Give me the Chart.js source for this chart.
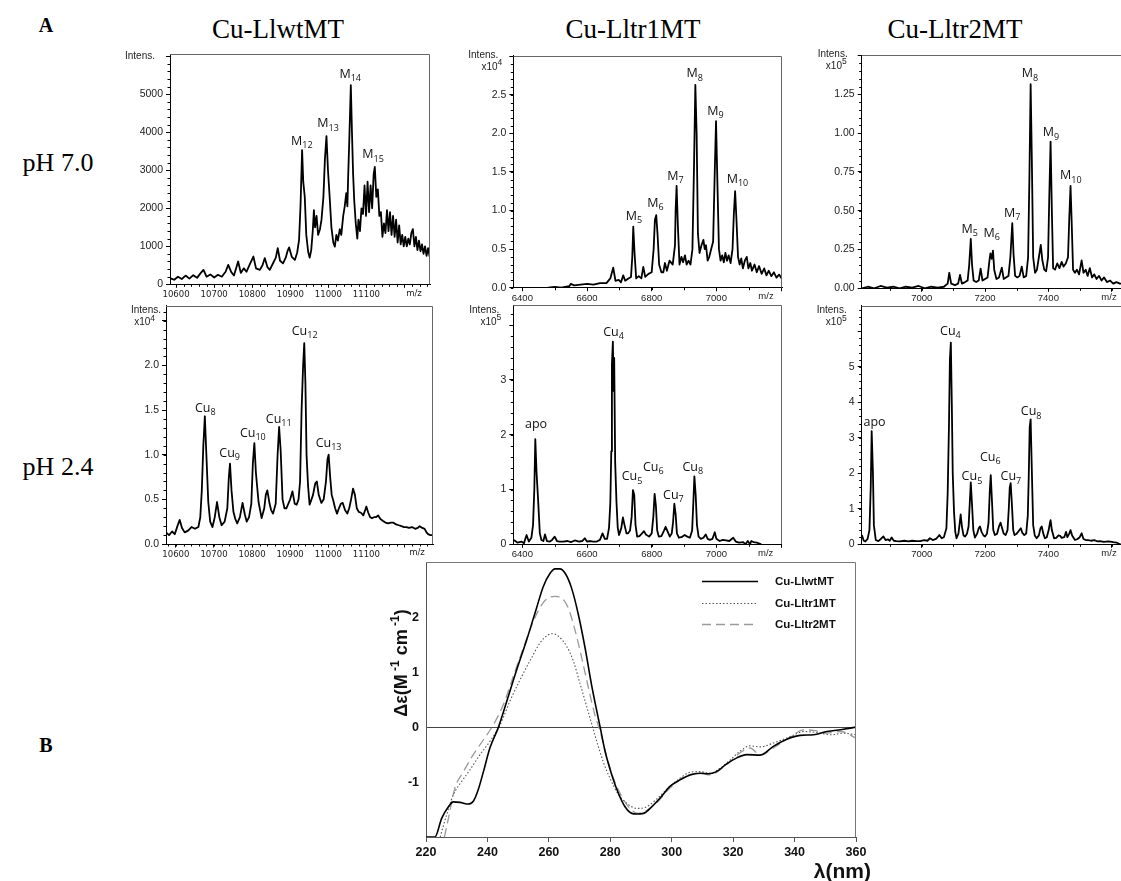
<!DOCTYPE html>
<html><head><meta charset="utf-8">
<script src="https://cdn.jsdelivr.net/npm/chart.js@4.4.1/dist/chart.umd.min.js"></script>
<style>
html,body{margin:0;padding:0;background:#fff;overflow:hidden;width:1121px;height:881px;position:relative}
canvas{position:absolute;left:0;top:0}
.t{position:absolute;white-space:nowrap;color:#000;transform:translate(-50%,-50%);line-height:1}
.serif{font-family:"Liberation Serif","DejaVu Serif",serif}
</style></head><body>
<div class="t serif" style="left:46px;top:25px;font-size:20px;font-weight:bold">A</div>
<div class="t serif" style="left:46px;top:745px;font-size:20px;font-weight:bold">B</div>
<div class="t serif" style="left:58px;top:163px;font-size:26px">pH 7.0</div>
<div class="t serif" style="left:58px;top:467px;font-size:26px">pH 2.4</div>
<div class="t serif" style="left:278px;top:29px;font-size:27px">Cu-LlwtMT</div>
<div class="t serif" style="left:633px;top:29px;font-size:27px">Cu-Lltr1MT</div>
<div class="t serif" style="left:955px;top:29px;font-size:27px">Cu-Lltr2MT</div>
<canvas id="p1" width="1140" height="881"></canvas>
<canvas id="p2" width="1140" height="881"></canvas>
<canvas id="p3" width="1140" height="881"></canvas>
<canvas id="p4" width="1140" height="881"></canvas>
<canvas id="p5" width="1140" height="881"></canvas>
<canvas id="p6" width="1140" height="881"></canvas>
<canvas id="cd" width="1140" height="881"></canvas>
<script>
// ---------- DATA: mass spectra (m/z, intensity) ----------
// pH 7.0, Cu-LlwtMT (Intens.)
const P1_MZ=[10584,10595,10605,10615,10625,10635,10645,10655,10665,10672,10680,10690,10700,10710,10720,10730,10737,10745,10752,10763,10770,10778,10785,10795,10803,10810,10820,10827,10833,10840,10846,10855,10862,10867,10873,10881,10888,10893,10897,10904,10912,10918,10923,10927,10931,10934,10938,10942,10947,10951,10955,10959,10962,10965,10969,10973,10978,10982,10987,10991,10995,10999,11004,11008,11013,11017,11021,11025,11030,11034,11039,11043,11047,11050,11052,11055,11059,11062,11065,11068,11072,11076,11079,11083,11087,11091,11095,11099,11103,11107,11111,11115,11119,11122,11126,11130,11134,11138,11142,11146,11150,11154,11158,11162,11166,11170,11174,11178,11182,11186,11190,11194,11198,11202,11206,11210,11214,11218,11222,11226,11230,11234,11238,11242,11246,11250,11254,11258,11262,11266];
const P1_INT=[160,120,200,140,230,150,240,170,300,380,200,260,180,250,200,330,510,320,230,600,300,420,330,560,730,420,380,500,690,450,380,560,700,950,620,550,700,880,970,720,640,830,1160,2100,3530,2700,2300,1300,850,700,900,1400,1950,1500,1800,1300,1450,1700,2300,3300,3900,3000,2200,1500,1100,990,1300,1150,1450,1300,1800,2050,2400,2050,2830,3800,5240,4000,2900,2200,1600,1200,1700,1400,2000,1850,2600,1800,2700,1900,2600,2000,2900,3090,2300,2500,1800,1900,1250,1600,1350,1950,1400,1900,1300,1800,1250,1700,1100,1550,1050,1300,1000,1250,1000,1200,1050,1350,1450,1000,1250,900,1150,870,1050,800,1000,750,950,730];
// pH 7.0, Cu-Lltr1MT (Intens. x10^4)
const P2_MZ=[6480,6500,6520,6545,6550,6560,6580,6600,6620,6640,6660,6672,6681,6688,6698,6705,6712,6718,6728,6736,6740,6743,6747,6752,6760,6768,6774,6780,6790,6800,6806,6810,6814,6818,6823,6830,6836,6841,6847,6855,6865,6872,6874,6877,6881,6886,6892,6897,6903,6908,6914,6920,6926,6931,6935,6939,6943,6948,6954,6960,6964,6968,6973,6978,6990,6995,6999,7003,7008,7013,7018,7023,7028,7033,7038,7044,7050,7054,7058,7062,7067,7072,7077,7082,7088,7094,7099,7105,7110,7118,7125,7132,7140,7148,7155,7162,7170,7178,7186,7194,7202];
const P2_INT=[0,0.01,0,0.02,0.05,0.03,0.04,0.05,0.04,0.06,0.06,0.12,0.26,0.09,0.1,0.07,0.16,0.09,0.12,0.14,0.4,0.79,0.45,0.12,0.15,0.12,0.27,0.14,0.18,0.2,0.5,0.88,0.94,0.7,0.3,0.2,0.2,0.32,0.22,0.35,0.3,0.55,1.0,1.32,0.8,0.3,0.4,0.33,0.42,0.3,0.35,0.3,0.5,1.6,2.63,2.0,0.7,0.45,0.55,0.62,0.5,0.55,0.35,0.4,0.6,1.5,2.16,1.4,0.5,0.35,0.42,0.33,0.45,0.35,0.42,0.32,0.5,0.95,1.25,0.9,0.4,0.3,0.38,0.25,0.35,0.4,0.25,0.32,0.22,0.3,0.2,0.28,0.18,0.25,0.16,0.22,0.15,0.2,0.13,0.17,0.12];
// pH 7.0, Cu-Lltr2MT (Intens. x10^5)
const P3_MZ=[6811,6830,6850,6870,6890,6910,6930,6950,6970,6990,7010,7030,7050,7070,7082,7087,7093,7105,7115,7121,7127,7137,7145,7150,7155,7159,7164,7172,7180,7186,7192,7200,7208,7214,7217,7221,7225,7229,7236,7244,7253,7259,7266,7274,7280,7286,7290,7295,7302,7309,7316,7322,7330,7336,7340,7344,7348,7352,7358,7364,7370,7376,7381,7387,7393,7399,7403,7407,7411,7415,7421,7428,7435,7442,7448,7455,7462,7466,7470,7474,7478,7484,7490,7497,7505,7511,7518,7524,7531,7538,7545,7552,7560,7568,7576,7585,7595,7605,7615,7626,7640];
const P3_INT=[0,0.01,0,0.015,0.005,0.01,0,0.01,0.005,0.015,0,0.01,0.005,0.01,0.03,0.10,0.03,0.02,0.03,0.086,0.03,0.04,0.05,0.15,0.318,0.15,0.05,0.04,0.05,0.127,0.05,0.06,0.07,0.18,0.225,0.19,0.243,0.12,0.06,0.07,0.133,0.06,0.07,0.08,0.2,0.42,0.22,0.08,0.07,0.08,0.14,0.07,0.08,0.2,0.7,1.315,0.8,0.2,0.1,0.12,0.2,0.28,0.18,0.12,0.11,0.2,0.6,0.945,0.5,0.13,0.12,0.16,0.13,0.17,0.14,0.16,0.2,0.45,0.66,0.4,0.12,0.1,0.12,0.09,0.18,0.1,0.12,0.08,0.13,0.07,0.09,0.06,0.08,0.05,0.07,0.04,0.05,0.03,0.04,0.03,0.03];
// pH 2.4, Cu-LlwtMT (Intens. x10^4)
const P4_MZ=[10574,10582,10590,10597,10604,10610,10616,10623,10632,10641,10650,10659,10664,10668,10672,10676,10680,10685,10690,10696,10702,10708,10714,10720,10728,10735,10739,10742,10746,10751,10756,10761,10768,10775,10781,10786,10792,10798,10802,10806,10810,10817,10825,10832,10836,10840,10846,10850,10855,10862,10867,10871,10875,10880,10885,10890,10895,10900,10906,10912,10917,10922,10926,10930,10934,10937,10940,10943,10947,10951,10956,10960,10966,10970,10975,10982,10988,10994,10998,11001,11005,11009,11013,11018,11023,11028,11033,11038,11044,11050,11055,11060,11065,11070,11075,11080,11086,11092,11097,11100,11105,11110,11115,11120,11125,11131,11137,11143,11150,11157,11164,11170,11178,11185,11192,11199,11205,11212,11220,11228,11235,11240,11247,11253,11258,11262,11268,11273];
const P4_INT=[0.13,0.1,0.14,0.11,0.2,0.27,0.18,0.13,0.15,0.19,0.17,0.19,0.3,0.6,1.1,1.43,1.0,0.47,0.25,0.19,0.3,0.47,0.3,0.21,0.25,0.4,0.75,0.9,0.6,0.36,0.28,0.23,0.3,0.46,0.33,0.25,0.3,0.45,0.9,1.13,0.8,0.47,0.29,0.4,0.55,0.6,0.45,0.38,0.34,0.45,1.0,1.31,1.05,0.5,0.4,0.4,0.45,0.5,0.59,0.45,0.44,0.5,0.7,1.5,2.0,2.25,1.8,1.0,0.65,0.44,0.5,0.55,0.68,0.7,0.55,0.46,0.5,0.7,0.95,1.0,0.75,0.55,0.49,0.4,0.34,0.4,0.45,0.46,0.38,0.34,0.4,0.5,0.62,0.55,0.4,0.36,0.35,0.32,0.38,0.42,0.35,0.3,0.29,0.3,0.3,0.32,0.28,0.26,0.24,0.23,0.24,0.24,0.22,0.21,0.2,0.19,0.19,0.18,0.19,0.17,0.18,0.2,0.18,0.17,0.13,0.11,0.1,0.1];
// pH 2.4, Cu-Lltr1MT (Intens. x10^5)
const P5_MZ=[6374,6385,6397,6405,6413,6420,6428,6433,6437,6440,6444,6449,6454,6459,6465,6470,6476,6485,6492,6500,6507,6515,6526,6540,6550,6562,6575,6585,6593,6600,6610,6619,6630,6640,6648,6655,6662,6668,6672,6675,6677,6680,6682,6684,6687,6691,6695,6699,6706,6711,6716,6722,6727,6733,6738,6742,6746,6750,6755,6762,6770,6776,6782,6792,6800,6805,6809,6813,6817,6822,6830,6838,6843,6848,6856,6862,6866,6870,6874,6878,6884,6892,6902,6910,6918,6925,6929,6932,6936,6940,6945,6952,6960,6967,6973,6980,6988,6995,7000,7010,7020,7030,7040,7052,7060,7070,7083,7090,7097,7104,7108,7115,7125,7139];
const P5_INT=[0.08,0.03,0.05,0.02,0.17,0.05,0.12,0.35,1.0,1.92,1.3,0.78,0.2,0.08,0.06,0.18,0.06,0.05,0.08,0.14,0.06,0.05,0.05,0.06,0.04,0.07,0.05,0.06,0.11,0.05,0.06,0.05,0.05,0.08,0.2,0.1,0.1,0.3,0.75,1.7,3.3,3.7,2.8,3.4,1.5,0.78,0.3,0.17,0.3,0.49,0.35,0.2,0.2,0.25,0.5,0.99,0.9,0.35,0.14,0.15,0.2,0.24,0.18,0.14,0.2,0.5,0.92,0.7,0.25,0.14,0.15,0.25,0.32,0.25,0.14,0.2,0.4,0.74,0.55,0.2,0.12,0.13,0.17,0.14,0.12,0.25,0.8,1.24,0.9,0.35,0.14,0.1,0.12,0.18,0.1,0.08,0.1,0.22,0.1,0.06,0.08,0.07,0.06,0.12,0.05,0.03,0.04,0,0.06,0,0.06,0.04,0.03,0];
// pH 2.4, Cu-Lltr2MT (Intens. x10^5)
const P6_MZ=[6811,6817,6822,6829,6835,6839,6842,6846,6849,6855,6863,6871,6879,6886,6893,6899,6905,6912,6920,6931,6945,6958,6970,6983,6995,7008,7018,7026,7035,7045,7056,7063,7070,7078,7082,7086,7089,7092,7095,7098,7102,7106,7110,7116,7120,7123,7127,7132,7137,7143,7148,7152,7155,7159,7163,7168,7175,7180,7184,7189,7195,7200,7206,7211,7215,7218,7222,7226,7231,7238,7244,7249,7254,7259,7265,7271,7275,7278,7281,7285,7289,7293,7300,7307,7313,7318,7324,7330,7335,7338,7341,7344,7348,7352,7357,7363,7370,7375,7379,7384,7389,7395,7401,7405,7407,7411,7418,7425,7432,7437,7442,7450,7456,7460,7466,7470,7475,7484,7492,7499,7505,7511,7518,7526,7535,7545,7555,7563,7575,7590,7605,7615,7626,7640];
const P6_INT=[0.26,0.1,0.08,0.15,0.4,1.6,3.19,2.0,0.54,0.12,0.09,0.15,0.22,0.12,0.14,0.1,0.19,0.1,0.09,0.08,0.1,0.08,0.1,0.09,0.09,0.12,0.1,0.17,0.12,0.15,0.26,0.17,0.2,0.45,1.44,3.3,5.2,5.68,4.0,2.0,0.92,0.35,0.17,0.3,0.6,0.84,0.5,0.25,0.22,0.3,0.5,1.2,1.74,1.1,0.4,0.19,0.3,0.45,0.5,0.35,0.25,0.22,0.3,0.6,1.5,1.95,1.2,0.4,0.26,0.3,0.5,0.61,0.45,0.3,0.26,0.4,1.0,1.6,1.72,1.1,0.4,0.26,0.3,0.38,0.45,0.32,0.26,0.3,0.8,1.9,3.3,3.52,2.0,0.54,0.25,0.17,0.25,0.45,0.5,0.3,0.17,0.2,0.4,0.6,0.68,0.4,0.17,0.18,0.25,0.24,0.18,0.2,0.35,0.2,0.3,0.4,0.25,0.12,0.15,0.2,0.31,0.15,0.12,0.12,0.1,0.12,0.08,0.09,0.07,0.08,0.06,0.05,0,0];

// ---------- tick labels ----------
const WT_XTICKS=[10600,10700,10800,10900,11000,11100,11200];
const WT_XLABELS=['10600','10700','10800','10900','11000','11100',''];
const TR1_XTICKS=[6400,6600,6800,7000,7200];
const TR1_XLABELS=['6400','6600','6800','7000',''];
const TR2_XTICKS=[7000,7200,7400,7600];
const TR2_XLABELS=['7000','7200','7400',''];
const P1_YTICKS=[0,1000,2000,3000,4000,5000,6000];
const P1_YLABELS=['0','1000','2000','3000','4000','5000',''];
const P2_YTICKS=[0,0.5,1.0,1.5,2.0,2.5,3.0];
const P2_YLABELS=['0.0','0.5','1.0','1.5','2.0','2.5',''];
const P3_YTICKS=[0,0.25,0.5,0.75,1.0,1.25,1.5];
const P3_YLABELS=['0.00','0.25','0.50','0.75','1.00','1.25',''];
const P4_YTICKS=[0,0.5,1.0,1.5,2.0,2.5];
const P4_YLABELS=['0.0','0.5','1.0','1.5','2.0',''];
const P5_YTICKS=[0,1,2,3,4];
const P5_YLABELS=['0','1','2','3',''];
const P6_YTICKS=[0,1,2,3,4,5,6];
const P6_YLABELS=['0','1','2','3','4','5',''];

// ---------- peak annotations (name, subscript, anchor m/z, anchor intensity) ----------
const P1_PEAK_NAME=['M','M','M','M'];
const P1_PEAK_SUB=['12','13','14','15'];
const P1_PEAK_MZ=[10902,10971,11029,11089];
const P1_PEAK_I=[3666,4132,5437,3316];
const P2_PEAK_NAME=['M','M','M','M','M','M'];
const P2_PEAK_SUB=['5','6','7','8','9','10'];
const P2_PEAK_MZ=[6720,6786,6848,6908,6972,7032];
const P2_PEAK_I=[0.878,1.05,1.397,2.73,2.24,1.362];
const P3_PEAK_NAME=['M','M','M','M','M','M'];
const P3_PEAK_SUB=['5','6','7','8','9','10'];
const P3_PEAK_MZ=[7126,7195,7260,7316,7382,7437];
const P3_PEAK_I=[0.358,0.333,0.461,1.36,0.981,0.702];
const P4_PEAK_NAME=['Cu','Cu','Cu','Cu','Cu','Cu'];
const P4_PEAK_SUB=['8','9','10','11','12','13'];
const P4_PEAK_MZ=[10650,10714,10768,10836,10904,10967];
const P4_PEAK_I=[1.48,0.978,1.20,1.36,2.34,1.09];
const P5_PEAK_NAME=['apo','Cu','Cu','Cu','Cu','Cu'];
const P5_PEAK_SUB=['','4','5','6','7','8'];
const P5_PEAK_MZ=[6408,6650,6707,6773,6835,6895];
const P5_PEAK_I=[2.12,3.81,1.17,1.34,0.83,1.34];
const P6_PEAK_NAME=['apo','Cu','Cu','Cu','Cu','Cu'];
const P6_PEAK_SUB=['','4','5','6','7','8'];
const P6_PEAK_MZ=[6816,7058,7126,7184,7249,7313];
const P6_PEAK_I=[3.34,5.9,1.81,2.35,1.81,3.64];

// ---------- CD spectra ----------
const CD_WT_NM=[220,222.9,225.1,227.3,228.9,231.1,233.8,235.4,237.0,238.7,240.8,243.6,246.3,249.5,252.8,256.0,258.2,260.4,262.0,263.6,265.3,267.4,269.6,271.8,273.9,276.1,276.7,278.3,280.5,282.6,284.8,287.0,288.6,290.8,293.5,296.7,299.4,302.7,306.0,309.2,311.9,314.6,317.9,321.2,324.4,328.8,333.1,337.5,341.8,346.2,350.5,355.9,360];
const CD_WT=[-2.0,-2.0,-1.66,-1.45,-1.36,-1.37,-1.40,-1.35,-1.14,-0.81,-0.38,0,0.47,1.04,1.59,2.17,2.56,2.80,2.88,2.88,2.80,2.53,2.05,1.44,0.77,0.16,0,-0.44,-0.87,-1.20,-1.45,-1.57,-1.58,-1.57,-1.45,-1.26,-1.08,-0.96,-0.87,-0.84,-0.85,-0.81,-0.67,-0.56,-0.50,-0.51,-0.35,-0.22,-0.15,-0.14,-0.08,-0.04,0];
const CD_TR1_NM=[224.6,226.7,228.9,231.6,234.3,237.6,240.8,244.1,247.3,250.6,253.9,257.1,259.8,261.5,263.6,265.8,268.0,270.1,272.3,273.9,275.6,277.7,279.9,282.6,285.9,288.6,291.8,295.1,299.4,302.7,306.0,309.2,312.5,315.7,319.0,322.2,325.5,328.8,333.1,338.8,343.0,347.5,352.0,355.9,360];
const CD_TR1=[-2.0,-1.6,-1.23,-0.99,-0.78,-0.50,-0.26,0.04,0.47,0.86,1.21,1.53,1.68,1.70,1.63,1.47,1.20,0.80,0.38,0.07,-0.26,-0.63,-0.93,-1.22,-1.41,-1.48,-1.45,-1.31,-1.08,-0.93,-0.82,-0.81,-0.84,-0.75,-0.60,-0.44,-0.34,-0.36,-0.29,-0.17,-0.08,-0.10,-0.14,-0.11,-0.14];
const CD_TR2_NM=[226.0,227.3,229.4,232.2,235.4,238.7,241.9,245.2,248.4,251.7,254.9,257.7,259.8,262.0,264.2,266.3,268.5,270.7,272.9,275.0,276.7,278.8,281.0,283.7,286.4,289.1,291.8,295.1,299.4,302.7,306.0,309.2,312.5,315.7,319.0,322.2,325.5,328.8,333.1,338.8,343.0,346.2,350.5,355.0,360];
const CD_TR2=[-2.0,-1.66,-1.11,-0.81,-0.50,-0.23,0.04,0.41,0.92,1.44,1.92,2.23,2.35,2.38,2.35,2.17,1.77,1.26,0.71,0.22,-0.08,-0.53,-0.93,-1.26,-1.48,-1.57,-1.52,-1.38,-1.11,-0.95,-0.86,-0.84,-0.87,-0.78,-0.63,-0.47,-0.38,-0.51,-0.38,-0.17,-0.05,-0.06,-0.11,-0.08,-0.20];
const CD_XTICKS=[220,240,260,280,300,320,340,360];
const CD_YTICKS=[-2,-1,0,1,2,3];
const CD_YLABELS=['','-1','0','1','2',''];
const CD_SERIES=['Cu-LlwtMT','Cu-Lltr1MT','Cu-Lltr2MT'];

// ---------- rendering ----------
const CW=1140, CH=881;
const SANS='"Liberation Sans", Arial, sans-serif';
const NARROW='"Liberation Sans Narrow","Arial Narrow","DejaVu Sans Condensed","Liberation Sans",sans-serif';
const LBL='"Open Sans","Noto Sans",sans-serif';

function pts(xs,ys){return xs.map((x,i)=>({x:x,y:ys[i]}));}

function decoPlugin(o){
  return {id:'deco_'+o.id, afterDatasetsDraw(chart){
    const c=chart.ctx,a=chart.chartArea,xs=chart.scales.x,ys=chart.scales.y;
    c.save();
    c.strokeStyle='#666';c.lineWidth=1;c.beginPath();
    const tp=Math.round(a.top)+0.5, rp=Math.round(a.right)-0.5;
    c.moveTo(a.left,tp);c.lineTo(rp,tp);c.lineTo(rp,a.bottom);c.stroke();
    c.strokeStyle='#000';c.beginPath();
    const y0=Math.ceil(ys.min/o.yminor);
    for(let k=y0;k*o.yminor<=ys.max+1e-9;k++){const p=Math.round(ys.getPixelForValue(k*o.yminor))+0.5;c.moveTo(a.left-2.5,p);c.lineTo(a.left,p);}
    const x0=Math.ceil(xs.min/o.xminor);
    for(let k=x0;k*o.xminor<=xs.max+1e-9;k++){const p=Math.round(xs.getPixelForValue(k*o.xminor))+0.5;c.moveTo(p,a.bottom);c.lineTo(p,a.bottom+2.5);}
    c.stroke();
    c.fillStyle='#222';c.font='10px '+SANS;c.textAlign='right';c.textBaseline='middle';
    c.fillText('Intens.',a.left+o.intDx,a.top+o.intDy);
    if(o.exp){
      c.font='10px '+SANS;const w=c.measureText('x10').width;
      c.font='8.5px '+SANS;const ws=c.measureText(o.exp).width;
      const sx=a.left+o.expDx-w-ws, yy=a.top+o.intDy+12;
      c.textAlign='left';c.font='10px '+SANS;c.fillText('x10',sx,yy);
      c.font='8.5px '+SANS;c.fillText(o.exp,sx+w,yy-4);
    }
    c.font=o.xfont.size+'px '+o.xfont.family;c.textAlign='center';c.textBaseline='top';
    c.fillText('m/z',a.right-16,a.bottom+4);
    c.fillStyle='#111';c.textAlign='left';c.textBaseline='alphabetic';
    for(let i=0;i<o.pname.length;i++){
      const x=xs.getPixelForValue(o.pmz[i]), y=ys.getPixelForValue(o.pint[i]);
      c.font='12.5px '+LBL;c.fillText(o.pname[i],x,y);
      const w=c.measureText(o.pname[i]).width;
      if(o.psub[i]){c.font='9px '+LBL;c.fillText(o.psub[i],x+w,y+3.5);}
    }
    c.restore();
  }};
}

function makeMS(o){
  const YW=60, XH=22;
  return new Chart(document.getElementById(o.id),{
    type:'line',
    data:{datasets:[{data:pts(o.mz,o.inten),borderColor:'#000',borderWidth:1.8,borderJoinStyle:'round',pointRadius:0,tension:0,fill:false}]},
    options:{
      responsive:false,animation:false,devicePixelRatio:1,
      layout:{padding:{left:o.box.l-YW,top:o.box.t,right:CW-o.box.r,bottom:CH-o.box.b-XH}},
      plugins:{legend:{display:false},tooltip:{enabled:false}},
      scales:{
        x:{type:'linear',min:o.xmin,max:o.xmax,
          afterBuildTicks:s=>{s.ticks=o.xticks.map(v=>({value:v}));},
          afterFit:s=>{s.height=XH;},
          ticks:{autoSkip:false,maxRotation:0,minRotation:0,padding:1,color:'#222',font:o.xfont,callback:(v,i)=>o.xlabels[i]},
          grid:{drawOnChartArea:false,drawTicks:true,tickLength:3.5,color:'#000',tickColor:'#000'},
          border:{display:true,color:'#000',width:1}},
        y:{type:'linear',min:0,max:o.ymax,
          afterBuildTicks:s=>{s.ticks=o.yticks.map(v=>({value:v}));},
          afterFit:s=>{s.width=YW;},
          ticks:{autoSkip:false,padding:3,color:'#222',font:{family:SANS,size:10.5},callback:(v,i)=>o.ylabels[i]},
          grid:{drawOnChartArea:false,drawTicks:true,tickLength:4,color:'#000',tickColor:'#000'},
          border:{display:true,color:'#000',width:1}}
      }
    },
    plugins:[decoPlugin(o)]
  });
}

const WTF={family:NARROW,size:9.5}, TRF={family:SANS,size:9.5};
makeMS({id:'p1',box:{l:170,t:54,r:430,b:284.3},xmin:10584,xmax:11267,ymax:6060,mz:P1_MZ,inten:P1_INT,
  xticks:WT_XTICKS,xlabels:WT_XLABELS,xminor:20,yticks:P1_YTICKS,ylabels:P1_YLABELS,yminor:200,xfont:WTF,
  pname:P1_PEAK_NAME,psub:P1_PEAK_SUB,pmz:P1_PEAK_MZ,pint:P1_PEAK_I,exp:null,intDx:-15,intDy:2,expDx:-11});
makeMS({id:'p2',box:{l:513.3,t:55.5,r:782,b:287.7},xmin:6372,xmax:7203,ymax:3.01,mz:P2_MZ,inten:P2_INT,
  xticks:TR1_XTICKS,xlabels:TR1_XLABELS,xminor:100,yticks:P2_YTICKS,ylabels:P2_YLABELS,yminor:0.1,xfont:TRF,
  pname:P2_PEAK_NAME,psub:P2_PEAK_SUB,pmz:P2_PEAK_MZ,pint:P2_PEAK_I,exp:'4',intDx:-15,intDy:-0.5,expDx:-11});
makeMS({id:'p3',box:{l:861.7,t:55,r:1125,b:288.3},xmin:6810.5,xmax:7642,ymax:1.503,mz:P3_MZ,inten:P3_INT,
  xticks:TR2_XTICKS,xlabels:TR2_XLABELS,xminor:100,yticks:P3_YTICKS,ylabels:P3_YLABELS,yminor:0.05,xfont:TRF,
  pname:P3_PEAK_NAME,psub:P3_PEAK_SUB,pmz:P3_PEAK_MZ,pint:P3_PEAK_I,exp:'5',intDx:-14,intDy:-1,expDx:-15});
makeMS({id:'p4',box:{l:166,t:305.7,r:433,b:544},xmin:10574,xmax:11275,ymax:2.668,mz:P4_MZ,inten:P4_INT,
  xticks:WT_XTICKS,xlabels:WT_XLABELS,xminor:20,yticks:P4_YTICKS,ylabels:P4_YLABELS,yminor:0.1,xfont:WTF,
  pname:P4_PEAK_NAME,psub:P4_PEAK_SUB,pmz:P4_PEAK_MZ,pint:P4_PEAK_I,exp:'4',intDx:-5,intDy:4.5,expDx:-11});
makeMS({id:'p5',box:{l:513.3,t:305,r:781.7,b:544.3},xmin:6372,xmax:7202,ymax:4.367,mz:P5_MZ,inten:P5_INT,
  xticks:TR1_XTICKS,xlabels:TR1_XLABELS,xminor:100,yticks:P5_YTICKS,ylabels:P5_YLABELS,yminor:0.2,xfont:TRF,
  pname:P5_PEAK_NAME,psub:P5_PEAK_SUB,pmz:P5_PEAK_MZ,pint:P5_PEAK_I,exp:'5',intDx:-14,intDy:5,expDx:-12});
makeMS({id:'p6',box:{l:861.7,t:305.7,r:1125,b:544.3},xmin:6810.5,xmax:7642,ymax:6.72,mz:P6_MZ,inten:P6_INT,
  xticks:TR2_XTICKS,xlabels:TR2_XLABELS,xminor:100,yticks:P6_YTICKS,ylabels:P6_YLABELS,yminor:0.2,xfont:TRF,
  pname:P6_PEAK_NAME,psub:P6_PEAK_SUB,pmz:P6_PEAK_MZ,pint:P6_PEAK_I,exp:'5',intDx:-15,intDy:4.5,expDx:-15});

// ---------- CD chart ----------
const cdDeco={id:'cdDeco',afterDatasetsDraw(chart){
  const c=chart.ctx,a=chart.chartArea;
  c.save();
  c.strokeStyle='#777';c.lineWidth=1;c.beginPath();
  const tp=Math.round(a.top)+0.5, rp=Math.round(a.right)-0.5;
  c.moveTo(a.left,tp);c.lineTo(rp,tp);c.lineTo(rp,a.bottom);c.stroke();
  chart.data.datasets.forEach((d,i)=>{
    const y=Math.round(581+i*21.7)+0.5;
    c.strokeStyle=d.borderColor;c.lineWidth=d.borderWidth;c.setLineDash(d.borderDash||[]);
    c.beginPath();c.moveTo(702,y);c.lineTo(758,y);c.stroke();
    c.setLineDash([]);
    c.fillStyle='#111';c.font='bold 11.5px '+SANS;c.textAlign='left';c.textBaseline='middle';
    c.fillText(d.label,775,y);
  });
  c.translate(407,663);c.rotate(-Math.PI/2);
  const parts=[['\u0394\u03b5(M',18,0],[' -1',12,-8],[' cm',18,0],[' -1',12,-8],[')',18,0]];
  let tw=0;parts.forEach(p=>{c.font='bold '+p[1]+'px '+SANS;tw+=c.measureText(p[0]).width;});
  let x=-tw/2;c.fillStyle='#111';c.textAlign='left';c.textBaseline='alphabetic';
  parts.forEach(p=>{c.font='bold '+p[1]+'px '+SANS;c.fillText(p[0],x,p[2]);x+=c.measureText(p[0]).width;});
  c.setTransform(1,0,0,1,0,0);
  c.font='bold 21px '+SANS;c.textAlign='right';c.textBaseline='alphabetic';c.fillStyle='#111';
  c.fillText('\u03bb(nm)',871,878);
  c.restore();
}};
const CD_YW=60, CD_XH=30, CDB={l:426,t:562.3,r:856,b:837};
new Chart(document.getElementById('cd'),{
  type:'line',
  data:{datasets:[
    {label:CD_SERIES[0],data:pts(CD_WT_NM,CD_WT),borderColor:'#000',borderWidth:1.6,pointRadius:0,cubicInterpolationMode:'monotone',fill:false},
    {label:CD_SERIES[1],data:pts(CD_TR1_NM,CD_TR1),borderColor:'#555',borderWidth:1.1,borderDash:[1.5,2],pointRadius:0,cubicInterpolationMode:'monotone',fill:false},
    {label:CD_SERIES[2],data:pts(CD_TR2_NM,CD_TR2),borderColor:'#9a9a9a',borderWidth:1.3,borderDash:[9,5],pointRadius:0,cubicInterpolationMode:'monotone',fill:false}
  ]},
  options:{
    responsive:false,animation:false,devicePixelRatio:1,
    layout:{padding:{left:CDB.l-CD_YW,top:CDB.t,right:CW-CDB.r,bottom:CH-CDB.b-CD_XH}},
    plugins:{legend:{display:false},tooltip:{enabled:false}},
    scales:{
      x:{type:'linear',min:220,max:360,
        afterBuildTicks:s=>{s.ticks=CD_XTICKS.map(v=>({value:v}));},
        afterFit:s=>{s.height=CD_XH;},
        ticks:{autoSkip:false,maxRotation:0,padding:3,color:'#111',font:{family:SANS,size:12.5,weight:'bold'},callback:v=>String(v)},
        grid:{drawOnChartArea:false,drawTicks:true,tickLength:5,color:'#555',tickColor:'#555'},
        border:{display:true,color:'#555',width:1}},
      y:{type:'linear',min:-2,max:3,
        afterBuildTicks:s=>{s.ticks=CD_YTICKS.map(v=>({value:v}));},
        afterFit:s=>{s.width=CD_YW;},
        ticks:{autoSkip:false,padding:7,color:'#111',font:{family:SANS,size:12.5,weight:'bold'},callback:(v,i)=>CD_YLABELS[i]},
        grid:{drawOnChartArea:true,drawTicks:false,color:ctx=>(ctx.tick&&ctx.tick.value===0)?'#444':'rgba(0,0,0,0)'},
        border:{display:true,color:'#555',width:1}}
    }
  },
  plugins:[cdDeco]
});
</script>
</body></html>
